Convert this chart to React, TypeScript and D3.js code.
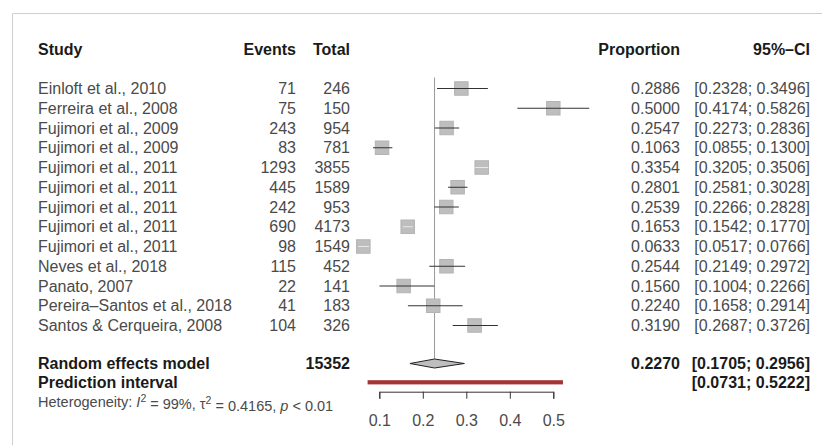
import React, { useEffect, useRef } from "react";
import * as d3 from "d3";

// datos de los estudios
const studies = [
  "Einloft et al., 2010",
  "Ferreira et al., 2008",
  "Fujimori et al., 2009",
  "Fujimori et al., 2009",
  "Fujimori et al., 2011",
  "Fujimori et al., 2011",
  "Fujimori et al., 2011",
  "Fujimori et al., 2011",
  "Fujimori et al., 2011",
  "Neves et al., 2018",
  "Panato, 2007",
  "Pereira–Santos et al., 2018",
  "Santos & Cerqueira, 2008",
];
const events = [71, 75, 243, 83, 1293, 445, 242, 690, 98, 115, 22, 41, 104];
const totals = [246, 150, 954, 781, 3855, 1589, 953, 4173, 1549, 452, 141, 183, 326];
const proportions = [0.2886, 0.5, 0.2547, 0.1063, 0.3354, 0.2801, 0.2539, 0.1653, 0.0633, 0.2544, 0.156, 0.224, 0.319];
const lower = [0.2328, 0.4174, 0.2273, 0.0855, 0.3205, 0.2581, 0.2266, 0.1542, 0.0517, 0.2149, 0.1004, 0.1658, 0.2687];
const upper = [0.3496, 0.5826, 0.2836, 0.13, 0.3506, 0.3028, 0.2828, 0.177, 0.0766, 0.2972, 0.2266, 0.2914, 0.3726];

// modelo de efectos aleatorios
const pooled = [0.227, 0.1705, 0.2956];
const prediction = [0.0731, 0.5222];
const pooledTotal = 15352;
const ticks = [0.1, 0.2, 0.3, 0.4, 0.5];

const W = 822;
const H = 445;
const FONT = "'Liberation Sans', Arial, Helvetica, sans-serif";

const App = () => {
  const ref = useRef<SVGSVGElement>(null);

  const drawChart = () => {
    const svg = d3.select(ref.current);
    svg.selectAll("*").remove();

    const x = d3.scaleLinear().domain([0.1, 0.5]).range([379.3, 553.3]);
    const y = d3.scaleLinear().domain([0, studies.length - 1]).range([88.5, 325.5]);
    const yHeader = 49.5;
    const yRE = 363.5;
    const yPI = 382.5;
    const yHet = 402;
    const yAxis = 391.7;

    const cStudy = 38;
    const cEvents = 296;
    const cTotal = 350;
    const cProp = 680;
    const cCI = 810;
    const sq = 13.5;

    const fmt = d3.format(".4f");

    // marco
    svg.append("path").attr("d", `M12.5,${H} V13.5 H${W}`).attr("fill", "none").attr("stroke", "#cfcfcf");

    const txt = (g, xx, yy, s, anchor = "start", bold = false, size = 16) =>
      g
        .append("text")
        .attr("x", xx)
        .attr("y", yy)
        .attr("dy", "0.35em")
        .attr("text-anchor", anchor)
        .attr("font-family", FONT)
        .attr("font-size", size)
        .attr("font-weight", bold ? "bold" : "normal")
        .attr("fill", bold ? "#1a1a1a" : "#4a4a4a")
        .text(s);

    // encabezados
    txt(svg, cStudy, yHeader, "Study", "start", true);
    txt(svg, cEvents, yHeader, "Events", "end", true);
    txt(svg, cTotal, yHeader, "Total", "end", true);
    txt(svg, cProp, yHeader, "Proportion", "end", true);
    txt(svg, cCI, yHeader, "95%–CI", "end", true);

    // linea de referencia
    svg
      .append("line")
      .attr("x1", x(pooled[0]))
      .attr("x2", x(pooled[0]))
      .attr("y1", y(0) - 11)
      .attr("y2", yRE - 4)
      .attr("stroke", "#999")
      .attr("stroke-width", 1);

    studies.forEach((s, i) => {
      const cy = y(i);
      txt(svg, cStudy, cy, s);
      txt(svg, cEvents, cy, events[i], "end");
      txt(svg, cTotal, cy, totals[i], "end");
      txt(svg, cProp, cy, fmt(proportions[i]), "end");
      txt(svg, cCI, cy, `[${fmt(lower[i])}; ${fmt(upper[i])}]`, "end");

      const cx = x(proportions[i]);
      svg
        .append("rect")
        .attr("x", cx - sq / 2)
        .attr("y", cy - sq / 2)
        .attr("width", sq)
        .attr("height", sq)
        .attr("fill", "#bebebe")
        .attr("stroke", "#b4b4b4");
      const inside = x(lower[i]) > cx - sq / 2 && x(upper[i]) < cx + sq / 2;
      svg
        .append("line")
        .attr("x1", x(lower[i]))
        .attr("x2", x(upper[i]))
        .attr("y1", cy)
        .attr("y2", cy)
        .attr("stroke", inside ? "#e8e8e8" : "#333")
        .attr("stroke-width", 1);
    });

    // efectos aleatorios
    txt(svg, cStudy, yRE, "Random effects model", "start", true);
    txt(svg, cTotal, yRE, pooledTotal, "end", true);
    txt(svg, cProp, yRE, fmt(pooled[0]), "end", true);
    txt(svg, cCI, yRE, `[${fmt(pooled[1])}; ${fmt(pooled[2])}]`, "end", true);
    svg
      .append("path")
      .attr(
        "d",
        `M${x(pooled[1])},${yRE} L${x(pooled[0])},${yRE - 4.5} L${x(pooled[2])},${yRE} L${x(pooled[0])},${yRE + 4.5} Z`
      )
      .attr("fill", "#bebebe")
      .attr("stroke", "#222")
      .attr("stroke-width", 1);

    // intervalo de prediccion
    txt(svg, cStudy, yPI, "Prediction interval", "start", true);
    txt(svg, cCI, yPI, `[${fmt(prediction[0])}; ${fmt(prediction[1])}]`, "end", true);
    svg
      .append("rect")
      .attr("x", x(prediction[0]))
      .attr("y", yPI - 2.3)
      .attr("width", x(prediction[1]) - x(prediction[0]))
      .attr("height", 4.2)
      .attr("fill", "#a33535");

    // heterogeneidad
    const het = svg
      .append("text")
      .attr("x", cStudy)
      .attr("y", yHet)
      .attr("dy", "0.35em")
      .attr("font-family", FONT)
      .attr("font-size", 14.5)
      .attr("fill", "#4a4a4a");
    het.append("tspan").text("Heterogeneity: ");
    het.append("tspan").attr("font-style", "italic").text("I");
    het.append("tspan").attr("dy", "-0.45em").attr("font-size", 10.5).text("2");
    het.append("tspan").attr("dy", "0.45em").text(" = 99%, ");
    het.append("tspan").text("τ");
    het.append("tspan").attr("dy", "-0.45em").attr("font-size", 10.5).text("2");
    het.append("tspan").attr("dy", "0.45em").text(" = 0.4165, ");
    het.append("tspan").attr("font-style", "italic").text("p");
    het.append("tspan").text(" < 0.01");

    // eje
    const axis = d3.axisBottom(x).tickValues(ticks).tickSize(7).tickFormat(d3.format(".1f"));
    const gAxis = svg.append("g").attr("transform", `translate(0,${yAxis})`).call(axis);
    gAxis.select(".domain").attr("stroke", "#333");
    gAxis.selectAll(".tick line").attr("stroke", "#333");
    gAxis
      .selectAll(".tick text")
      .attr("font-family", FONT)
      .attr("font-size", 16)
      .attr("fill", "#4a4a4a")
      .attr("y", 23);
  };

  useEffect(() => {
    if (ref.current) drawChart();
  }, []);

  return (
    <div style={{ position: "absolute", left: 0, top: 0, background: "#fff" }}>
      <svg ref={ref} width={W} height={H} style={{ display: "block" }} />
    </div>
  );
};

export default App;
